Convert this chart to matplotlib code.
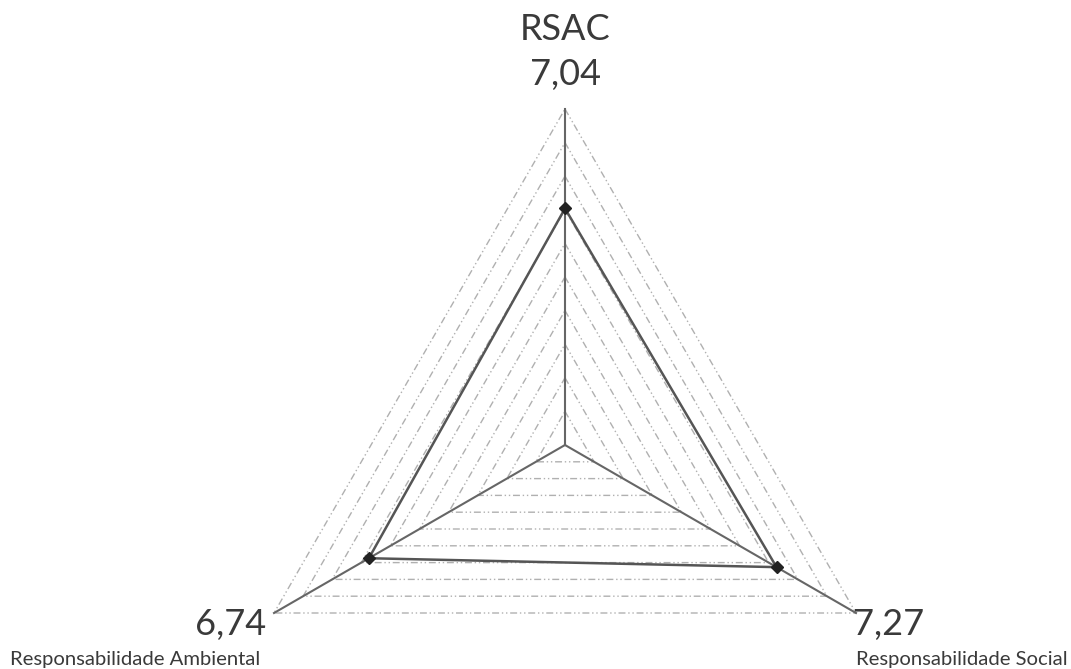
import numpy as np
import matplotlib.pyplot as plt

# axes of the radar (clockwise from top)
categories = ['RSAC', 'Responsabilidade Social', 'Responsabilidade Ambiental']
values = [7.04, 7.27, 6.74]
value_labels = ['7,04', '7,27', '6,74']
grid_levels = [1, 2, 3, 4, 5, 6, 7, 8, 9, 10]
r_max = 10

plt.rcParams['font.family'] = ['Lato', 'DejaVu Sans']

# angles: top, bottom-right, bottom-left
angles = np.deg2rad([90, -30, 210])

def to_xy(r, ang):
    return r * np.cos(ang), r * np.sin(ang)

fig = plt.figure(figsize=(10.71, 6.69), dpi=100)
ax = fig.add_axes([0, 0, 1, 1])
px = 33.6  # pixels per unit
ax.set_xlim(-565 / px, (1071 - 565) / px)
ax.set_ylim(-224 / px, 445 / px)
ax.axis('off')

# dashed triangular grid
for lvl in grid_levels:
    gx, gy = to_xy(lvl, np.append(angles, angles[0]))
    ax.plot(gx, gy, color='#b0b0b0', lw=1.0,
            linestyle=(0, (5, 2, 1, 2, 1, 2)), zorder=1)

# spokes
for ang in angles:
    sx, sy = to_xy(np.array([0, r_max]), ang)
    ax.plot(sx, sy, color='#666666', lw=1.5, zorder=2)

# data polygon
dx, dy = to_xy(np.append(values, values[0]), np.append(angles, angles[0]))
ax.plot(dx, dy, color='#555555', lw=1.8, zorder=3)
ax.plot(dx[:-1], dy[:-1], 'D', color='#222222', ms=6, zorder=4)

txt = '#3a3a3a'
# top label
tx, ty = to_xy(r_max, angles[0])
ax.text(tx, ty + 34 / px, value_labels[0], ha='center', va='center', fontsize=26, color=txt)
ax.text(tx, ty + 79 / px, categories[0], ha='center', va='center', fontsize=26, color=txt)

# bottom-right
bx, by = to_xy(r_max, angles[1])
ax.text(bx - 3 / px, by - 22 / px, value_labels[1], ha='left', va='baseline', fontsize=26, color=txt)
ax.text(1068 / px - 565 / px, by - 52 / px, categories[1], ha='right', va='baseline', fontsize=14.6, color=txt)

# bottom-left
lx, ly = to_xy(r_max, angles[2])
ax.text(lx - 8 / px, ly - 22 / px, value_labels[2], ha='right', va='baseline', fontsize=26, color=txt)
ax.text(10 / px - 565 / px, ly - 52 / px, categories[2], ha='left', va='baseline', fontsize=14.6, color=txt)

fig.savefig('out.png', dpi=100)
